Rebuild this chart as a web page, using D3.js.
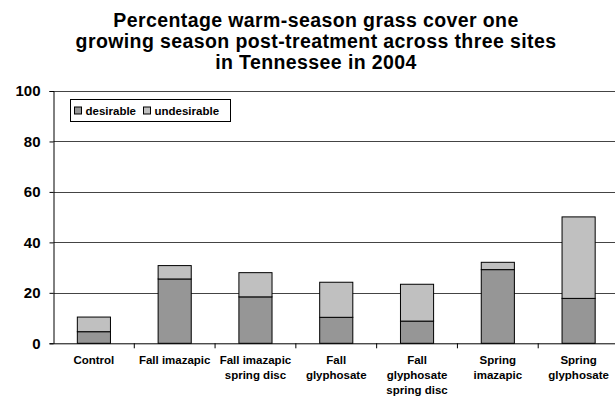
<!DOCTYPE html>
<html>
<head>
<meta charset="utf-8">
<script src="https://cdn.jsdelivr.net/npm/d3@7"></script>
<style>
  html, body { margin: 0; padding: 0; background: #fff; }
  svg { display: block; font-family: Arial, "Liberation Sans", sans-serif; }
</style>
</head>
<body>
<svg id="chart" width="615" height="396"></svg>
<script>
// Treatments (x categories)
const categories = [
  ["Control"],
  ["Fall imazapic"],
  ["Fall imazapic", "spring disc"],
  ["Fall", "glyphosate"],
  ["Fall", "glyphosate", "spring disc"],
  ["Spring", "imazapic"],
  ["Spring", "glyphosate"]
];
// Percent cover by grass type
const desirable   = [4.6, 25.5, 18.4, 10.3, 8.8, 29.2, 17.8];
const undesirable = [5.8, 5.3, 9.6, 13.9, 14.6, 2.9, 32.3];
const seriesNames = ["desirable", "undesirable"];
const seriesColors = ["#969696", "#c0c0c0"];
const yTicks = [0, 20, 40, 60, 80, 100];
const titleLines = [
  "Percentage warm-season grass cover one",
  "growing season post-treatment across three sites",
  "in Tennessee in 2004"
];

const svg = d3.select("#chart");
const margin = { left: 53.5, right: -4, top: 91, bottom: 52.7 };
const W = 615, H = 396;

const rows = categories.map((c, i) => ({
  key: c.join(" "), lines: c,
  desirable: desirable[i], undesirable: undesirable[i]
}));

const x = d3.scaleBand()
  .domain(rows.map(r => r.key))
  .range([margin.left, W - margin.right])
  .paddingInner(0.59).paddingOuter(0.295);
const xOuter = d3.scaleBand()
  .domain(rows.map(r => r.key))
  .range([margin.left, W - margin.right]);
const y = d3.scaleLinear().domain([0, 100]).range([H - margin.bottom, margin.top]);

// Title
svg.append("g").selectAll("text").data(titleLines).join("text")
  .attr("x", 316).attr("y", (d, i) => 27 + i * 20.8)
  .attr("text-anchor", "middle")
  .style("font-size", "19.5px").style("font-weight", "bold")
  .style("letter-spacing", "0.4px").attr("fill", "#000")
  .text(d => d);

// Gridlines
svg.append("g").selectAll("line").data(yTicks.filter(t => t > 0)).join("line")
  .attr("x1", margin.left).attr("x2", W)
  .attr("y1", d => Math.round(y(d)) + 0.5).attr("y2", d => Math.round(y(d)) + 0.5)
  .attr("stroke", "#444").attr("stroke-width", 1);

// Stacked bars
const stack = d3.stack().keys(seriesNames)(rows);
svg.append("g").selectAll("g").data(stack).join("g")
  .attr("fill", (d, i) => seriesColors[i])
  .selectAll("rect").data(d => d).join("rect")
  .attr("x", d => x(d.data.key))
  .attr("width", x.bandwidth())
  .attr("y", d => y(d[1]))
  .attr("height", d => y(d[0]) - y(d[1]))
  .attr("stroke", "#000").attr("stroke-width", 1);

// Y axis
const yAxis = svg.append("g")
  .attr("transform", `translate(${margin.left},0)`)
  .call(d3.axisLeft(y).tickValues(yTicks).tickSize(4).tickPadding(9));
yAxis.select(".domain").attr("stroke", "#000");
yAxis.selectAll(".tick line").attr("stroke", "#000");
yAxis.selectAll("text").style("font-size", "15px").style("font-weight", "bold")
  .style("font-family", "Arial, 'Liberation Sans', sans-serif").attr("fill", "#000");

// X axis
const xAxis = svg.append("g")
  .attr("transform", `translate(0,${y(0)})`)
  .call(d3.axisBottom(xOuter).tickSize(0).tickFormat(""));
xAxis.select(".domain").attr("stroke", "#000");
xAxis.selectAll(".tick").remove();
// Category separators
svg.append("g").selectAll("line").data(rows.slice(1)).join("line")
  .attr("x1", d => xOuter(d.key)).attr("x2", d => xOuter(d.key))
  .attr("y1", y(0)).attr("y2", y(0) + 5)
  .attr("stroke", "#000");

// Category labels
const lab = svg.append("g").selectAll("text").data(rows).join("text")
  .attr("x", d => xOuter(d.key) + xOuter.bandwidth() / 2)
  .attr("y", y(0) + 20.5)
  .attr("text-anchor", "middle")
  .style("font-size", "11.5px").style("font-weight", "bold").attr("fill", "#000");
lab.selectAll("tspan").data(d => d.lines.map((l, i) => ({ l, i, cx: xOuter(d.key) + xOuter.bandwidth() / 2 }))).join("tspan")
  .attr("x", d => d.cx).attr("dy", d => d.i === 0 ? 0 : 15)
  .text(d => d.l);

// Legend
const lg = svg.append("g").attr("transform", "translate(70.5,99.5)");
lg.append("rect").attr("width", 160).attr("height", 22)
  .attr("fill", "#fff").attr("stroke", "#000");
const items = [{ n: "desirable", c: seriesColors[0], x: 4 }, { n: "undesirable", c: seriesColors[1], x: 73 }];
items.forEach(it => {
  lg.append("rect").attr("x", it.x).attr("y", 7.5).attr("width", 7).attr("height", 7)
    .attr("fill", it.c).attr("stroke", "#000");
  lg.append("text").attr("x", it.x + 11).attr("y", 15.5)
    .style("font-size", "11.5px").style("font-weight", "bold").attr("fill", "#000")
    .text(it.n);
});
</script>
</body>
</html>
